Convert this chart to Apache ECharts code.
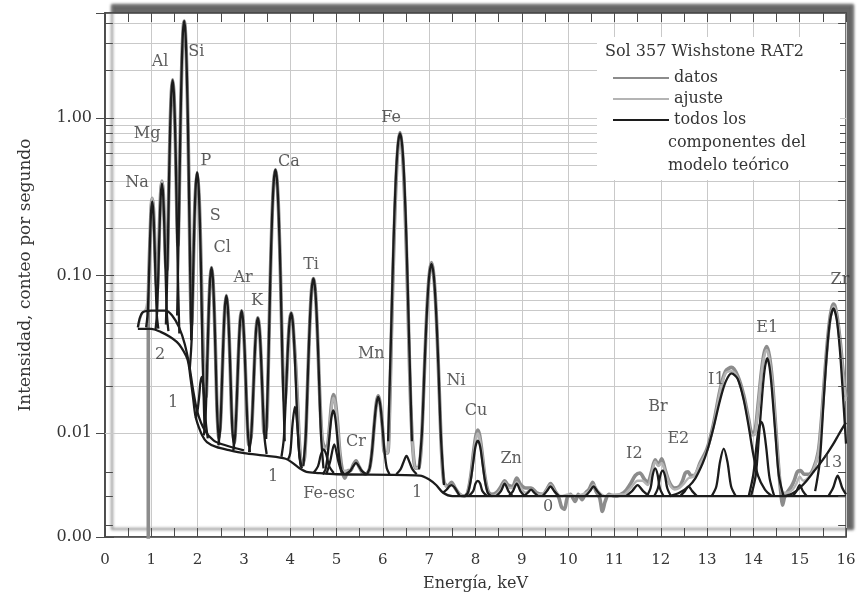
<!DOCTYPE html>
<html>
<head>
<meta charset="utf-8">
<script src="https://cdn.jsdelivr.net/npm/echarts@6/dist/echarts.min.js"></script>
<style>
html, body { margin: 0; background: #fff; }
#chart { width: 859px; height: 600px; }
</style>
</head>
<body>
<div id="chart"></div>
<script>
// espectro APXS, Sol 357 Wishstone RAT2
const datos = [[0.935,0.0020],[0.935,0.062],[0.95,0.108],[0.975,0.178],[1.0,0.28],[1.02,0.31],[1.045,0.266],[1.07,0.174],[1.10,0.096],[1.125,0.081],[1.15,0.116],[1.18,0.226],[1.205,0.345],[1.23,0.398],[1.255,0.343],[1.28,0.225],[1.31,0.119],[1.34,0.109],[1.37,0.268],[1.40,0.726],[1.43,1.40],[1.46,1.75],[1.49,1.40],[1.52,0.72],[1.55,0.266],[1.575,0.155],[1.60,0.288],[1.63,0.945],[1.66,2.30],[1.69,3.76],[1.71,4.13],[1.73,3.76],[1.76,2.30],[1.79,0.932],[1.82,0.261],[1.845,0.082],[1.87,0.0485],[1.895,0.080],[1.92,0.167],[1.95,0.324],[1.99,0.452],[2.03,0.322],[2.06,0.173],[2.09,0.073],[2.12,0.032],[2.15,0.018],[2.18,0.017],[2.21,0.030],[2.24,0.059],[2.27,0.095],[2.30,0.1125],[2.33,0.095],[2.36,0.059],[2.39,0.030],[2.42,0.014],[2.46,0.0093],[2.50,0.0127],[2.54,0.0285],[2.58,0.0577],[2.62,0.0748],[2.66,0.0576],[2.70,0.0283],[2.74,0.0124],[2.79,0.0087],[2.84,0.0147],[2.88,0.031],[2.92,0.0527],[2.95,0.060],[2.98,0.0527],[3.02,0.031],[3.06,0.0146],[3.11,0.0084],[3.16,0.0099],[3.20,0.0179],[3.24,0.0347],[3.27,0.0482],[3.30,0.054],[3.33,0.0482],[3.36,0.0347],[3.40,0.0179],[3.44,0.010],[3.49,0.011],[3.53,0.030],[3.57,0.098],[3.61,0.247],[3.645,0.40],[3.68,0.470],[3.715,0.40],[3.75,0.247],[3.79,0.098],[3.83,0.031],[3.86,0.018],[3.88,0.0155],[3.92,0.022],[3.96,0.040],[3.99,0.0528],[4.02,0.058],[4.05,0.0526],[4.08,0.0395],[4.12,0.026],[4.16,0.015],[4.20,0.0085],[4.25,0.0062],[4.31,0.0071],[4.36,0.0152],[4.40,0.0343],[4.44,0.0654],[4.47,0.0872],[4.50,0.096],[4.53,0.0872],[4.56,0.0654],[4.60,0.0343],[4.64,0.0164],[4.69,0.0091],[4.74,0.0082],[4.79,0.0081],[4.84,0.0103],[4.89,0.0152],[4.93,0.0176],[4.97,0.0162],[5.02,0.0118],[5.07,0.0076],[5.13,0.0057],[5.18,0.0052],[5.25,0.0058],[5.30,0.0058],[5.36,0.0063],[5.42,0.0067],[5.48,0.0062],[5.55,0.0057],[5.62,0.0055],[5.70,0.0058],[5.76,0.0074],[5.81,0.011],[5.86,0.0156],[5.90,0.0173],[5.94,0.0155],[5.99,0.011],[6.04,0.0075],[6.10,0.0075],[6.14,0.0125],[6.18,0.038],[6.22,0.105],[6.26,0.26],[6.30,0.50],[6.335,0.70],[6.37,0.81],[6.405,0.70],[6.44,0.50],[6.48,0.262],[6.52,0.112],[6.56,0.040],[6.60,0.0155],[6.65,0.0078],[6.71,0.0060],[6.78,0.0061],[6.83,0.0084],[6.88,0.0186],[6.93,0.0442],[6.97,0.076],[7.01,0.106],[7.05,0.121],[7.09,0.106],[7.13,0.0755],[7.17,0.0436],[7.22,0.0177],[7.27,0.0074],[7.32,0.0049],[7.40,0.0046],[7.48,0.0049],[7.56,0.0045],[7.66,0.0041],[7.76,0.0040],[7.83,0.0042],[7.90,0.0054],[7.96,0.0077],[8.01,0.0097],[8.05,0.0105],[8.09,0.0097],[8.14,0.0076],[8.20,0.0054],[8.27,0.0043],[8.35,0.0041],[8.45,0.0042],[8.55,0.0046],[8.63,0.0050],[8.70,0.0047],[8.80,0.0046],[8.89,0.0052],[8.98,0.0047],[9.08,0.0045],[9.20,0.0045],[9.32,0.0042],[9.45,0.0041],[9.54,0.0044],[9.62,0.0048],[9.72,0.0043],[9.8,0.0039],[9.86,0.0034],[9.92,0.0033],[9.98,0.0039],[10.05,0.0041],[10.15,0.0037],[10.22,0.0041],[10.3,0.0038],[10.38,0.0042],[10.45,0.0044],[10.53,0.0049],[10.6,0.0043],[10.68,0.0039],[10.74,0.0032],[10.8,0.0037],[10.88,0.0041],[11.0,0.0040],[11.2,0.0042],[11.35,0.0048],[11.45,0.0054],[11.55,0.0056],[11.65,0.0051],[11.72,0.0049],[11.8,0.0057],[11.88,0.0068],[11.95,0.0063],[12.02,0.0069],[12.1,0.0058],[12.2,0.0048],[12.3,0.0045],[12.4,0.0046],[12.47,0.0050],[12.53,0.0056],[12.59,0.0057],[12.65,0.0054],[12.72,0.0054],[12.85,0.0065],[13.0,0.0080],[13.14,0.0115],[13.28,0.0188],[13.4,0.0248],[13.53,0.0262],[13.66,0.0232],[13.79,0.0175],[13.9,0.0122],[13.97,0.0101],[14.03,0.0102],[14.1,0.0150],[14.17,0.0240],[14.23,0.0320],[14.29,0.0355],[14.35,0.0305],[14.41,0.0215],[14.48,0.0112],[14.55,0.0058],[14.6,0.0040],[14.63,0.0035],[14.68,0.0040],[14.75,0.0043],[14.82,0.0046],[14.88,0.0050],[14.95,0.0057],[15.02,0.0058],[15.1,0.0055],[15.2,0.0055],[15.3,0.0060],[15.40,0.0076],[15.46,0.0112],[15.52,0.0192],[15.58,0.033],[15.64,0.050],[15.69,0.062],[15.73,0.066],[15.77,0.063],[15.82,0.052],[15.88,0.037],[15.94,0.024],[16.0,0.017]];

const ajuste = [[0.71,0.047],[0.8,0.058],[0.88,0.061],[0.92,0.072],[0.95,0.108],[0.975,0.178],[1.0,0.28],[1.02,0.31],[1.045,0.266],[1.07,0.174],[1.10,0.096],[1.125,0.081],[1.15,0.116],[1.18,0.226],[1.205,0.345],[1.23,0.398],[1.255,0.343],[1.28,0.225],[1.31,0.119],[1.34,0.109],[1.37,0.268],[1.40,0.726],[1.43,1.40],[1.46,1.75],[1.49,1.40],[1.52,0.72],[1.55,0.266],[1.575,0.155],[1.60,0.288],[1.63,0.945],[1.66,2.30],[1.69,3.76],[1.71,4.13],[1.73,3.76],[1.76,2.30],[1.79,0.932],[1.82,0.261],[1.845,0.082],[1.87,0.0485],[1.895,0.080],[1.92,0.167],[1.95,0.324],[1.99,0.452],[2.03,0.322],[2.06,0.173],[2.09,0.073],[2.12,0.032],[2.15,0.018],[2.18,0.017],[2.21,0.030],[2.24,0.059],[2.27,0.095],[2.30,0.1125],[2.33,0.095],[2.36,0.059],[2.39,0.030],[2.42,0.014],[2.46,0.0093],[2.50,0.0127],[2.54,0.0285],[2.58,0.0577],[2.62,0.0748],[2.66,0.0576],[2.70,0.0283],[2.74,0.0124],[2.79,0.0087],[2.84,0.0147],[2.88,0.031],[2.92,0.0527],[2.95,0.060],[2.98,0.0527],[3.02,0.031],[3.06,0.0146],[3.11,0.0084],[3.16,0.0099],[3.20,0.0179],[3.24,0.0347],[3.27,0.0482],[3.30,0.054],[3.33,0.0482],[3.36,0.0347],[3.40,0.0179],[3.44,0.010],[3.49,0.011],[3.53,0.030],[3.57,0.098],[3.61,0.247],[3.645,0.40],[3.68,0.470],[3.715,0.40],[3.75,0.247],[3.79,0.098],[3.83,0.030],[3.88,0.0137],[3.92,0.022],[3.96,0.040],[3.99,0.0528],[4.02,0.058],[4.05,0.0526],[4.08,0.0395],[4.12,0.026],[4.16,0.015],[4.20,0.0085],[4.25,0.0062],[4.31,0.0071],[4.36,0.0152],[4.40,0.0343],[4.44,0.0654],[4.47,0.0872],[4.50,0.096],[4.53,0.0872],[4.56,0.0654],[4.60,0.0343],[4.64,0.0164],[4.69,0.0091],[4.74,0.0080],[4.79,0.0080],[4.84,0.0100],[4.89,0.0145],[4.93,0.0168],[4.97,0.0155],[5.02,0.0115],[5.07,0.0076],[5.13,0.0058],[5.30,0.0058],[5.36,0.0062],[5.42,0.0065],[5.48,0.0062],[5.55,0.0057],[5.62,0.0055],[5.70,0.0058],[5.76,0.0074],[5.81,0.011],[5.86,0.0154],[5.90,0.017],[5.94,0.0154],[5.99,0.011],[6.04,0.0075],[6.10,0.0075],[6.14,0.0125],[6.18,0.038],[6.22,0.105],[6.26,0.26],[6.30,0.50],[6.335,0.70],[6.37,0.80],[6.405,0.70],[6.44,0.50],[6.48,0.262],[6.52,0.112],[6.56,0.040],[6.60,0.0155],[6.65,0.0078],[6.71,0.0060],[6.78,0.0061],[6.83,0.0084],[6.88,0.0186],[6.93,0.0442],[6.97,0.076],[7.01,0.106],[7.05,0.119],[7.09,0.106],[7.13,0.0755],[7.17,0.0436],[7.22,0.0177],[7.27,0.0074],[7.32,0.0049],[7.40,0.0045],[7.48,0.0047],[7.56,0.0045],[7.66,0.0041],[7.76,0.0040],[7.83,0.0042],[7.90,0.0053],[7.96,0.0074],[8.01,0.0093],[8.05,0.0100],[8.09,0.0093],[8.14,0.0074],[8.20,0.0053],[8.27,0.0042],[8.35,0.0040],[8.45,0.0041],[8.55,0.0044],[8.63,0.0049],[8.72,0.0045],[8.80,0.0045],[8.89,0.0049],[8.98,0.0045],[9.08,0.0042],[9.20,0.0044],[9.32,0.0041],[9.45,0.0041],[9.54,0.0044],[9.62,0.0047],[9.72,0.0043],[9.85,0.0040],[10.0,0.0041],[10.15,0.0040],[10.3,0.0041],[10.45,0.0043],[10.55,0.0047],[10.65,0.0043],[10.8,0.0040],[11.0,0.0041],[11.2,0.0041],[11.35,0.0045],[11.5,0.0050],[11.6,0.0050],[11.72,0.0047],[11.8,0.0055],[11.88,0.0066],[11.95,0.0062],[12.02,0.0065],[12.1,0.0057],[12.2,0.0047],[12.3,0.0044],[12.4,0.0045],[12.5,0.0048],[12.6,0.0052],[12.7,0.0053],[12.85,0.0064],[13.0,0.0078],[13.14,0.0112],[13.28,0.0185],[13.4,0.0240],[13.53,0.0248],[13.66,0.0225],[13.79,0.0168],[13.9,0.0118],[13.97,0.0097],[14.03,0.0098],[14.1,0.0145],[14.17,0.0232],[14.23,0.0305],[14.29,0.0338],[14.35,0.0292],[14.41,0.0208],[14.48,0.0108],[14.55,0.0060],[14.63,0.0042],[14.72,0.0042],[14.85,0.0044],[14.93,0.0048],[15.0,0.0053],[15.08,0.0050],[15.2,0.0053],[15.3,0.0059],[15.40,0.0075],[15.46,0.011],[15.52,0.0188],[15.58,0.032],[15.64,0.0485],[15.69,0.059],[15.73,0.0635],[15.77,0.061],[15.82,0.051],[15.88,0.036],[15.94,0.023],[16.0,0.016]];

// componentes del modelo teorico: fondos (1, 2) y picos
const fondo1 = [[0.71,0.046],[1.0,0.046],[1.2,0.044],[1.4,0.041],[1.55,0.038],[1.65,0.035],[1.75,0.031],[1.8,0.028],[1.85,0.022],[1.9,0.017],[1.95,0.013],[2.0,0.0115],[2.1,0.0097],[2.2,0.0088],[2.4,0.0082],[2.7,0.0078],[3.0,0.0075],[3.5,0.0072],[3.9,0.0069],[4.05,0.0065],[4.2,0.0060],[4.35,0.0057],[4.6,0.0056],[5.0,0.0055],[6.8,0.0054],[7.0,0.0051],[7.15,0.0047],[7.3,0.0042],[7.5,0.0040],[16,0.0040]];
const fondo2 = [[0.71,0.047],[0.8,0.058],[1.0,0.060],[1.3,0.060],[1.45,0.056],[1.6,0.047],[1.72,0.037],[1.82,0.027],[1.9,0.019],[2.0,0.0135],[2.15,0.0105],[2.35,0.0090],[2.6,0.0084],[3.0,0.0078]];
const pNa = [[0.888,0.047],[0.92,0.057],[0.948,0.0955],[0.972,0.168],[0.996,0.255],[1.02,0.296],[1.044,0.254],[1.068,0.167],[1.092,0.0945],[1.12,0.056],[1.152,0.0461]];
const pMg = [[1.091,0.0455],[1.125,0.059],[1.154,0.111],[1.18,0.210],[1.205,0.328],[1.23,0.384],[1.255,0.328],[1.28,0.209],[1.306,0.110],[1.335,0.058],[1.369,0.0445]];
const pAl = [[1.315,0.049],[1.35,0.117],[1.381,0.378],[1.407,0.869],[1.434,1.46],[1.46,1.74],[1.486,1.46],[1.513,0.868],[1.539,0.376],[1.57,0.112],[1.605,0.043]];
const pSi = [[1.558,0.056],[1.595,0.216],[1.627,0.847],[1.655,2.03],[1.682,3.46],[1.71,4.13],[1.738,3.45],[1.765,2.03],[1.793,0.840],[1.825,0.205],[1.862,0.039]];
const pP = [[1.832,0.026],[1.87,0.039],[1.904,0.103],[1.932,0.229],[1.961,0.380],[1.99,0.452],[2.019,0.378],[2.048,0.225],[2.076,0.097],[2.11,0.029],[2.148,0.011]];
const pSiEsc = [[1.96,0.0125],[2.0,0.0141],[2.03,0.0168],[2.06,0.021],[2.09,0.0228],[2.12,0.0204],[2.15,0.0155],[2.18,0.0115],[2.22,0.0093]];
const pS = [[2.135,0.0097],[2.175,0.0135],[2.21,0.0293],[2.24,0.0592],[2.27,0.0953],[2.30,0.1125],[2.33,0.0952],[2.36,0.059],[2.39,0.0288],[2.425,0.0128],[2.465,0.0085]];
const pCl = [[2.448,0.0084],[2.49,0.0109],[2.526,0.0213],[2.558,0.0405],[2.589,0.0638],[2.62,0.0748],[2.651,0.0637],[2.682,0.0404],[2.714,0.0211],[2.75,0.0106],[2.792,0.0079]];
const pAr = [[2.77,0.0078],[2.8125,0.0099],[2.851,0.018],[2.884,0.0331],[2.917,0.0513],[2.95,0.060],[2.983,0.0513],[3.016,0.0331],[3.049,0.0179],[3.0875,0.0098],[3.13,0.0076]];
const pK = [[3.11,0.0076],[3.155,0.0095],[3.196,0.0165],[3.23,0.030],[3.265,0.0463],[3.30,0.054],[3.335,0.0463],[3.37,0.030],[3.404,0.0165],[3.445,0.0094],[3.49,0.0074]];
const pCa = [[3.48,0.0092],[3.5275,0.0274],[3.57,0.0988],[3.607,0.2325],[3.643,0.394],[3.68,0.470],[3.717,0.394],[3.753,0.2324],[3.79,0.0986],[3.8325,0.0272],[3.88,0.0089]];
const pCaB = [[3.81,0.0071],[3.86,0.0092],[3.905,0.017],[3.943,0.0319],[3.982,0.0497],[4.02,0.0581],[4.058,0.0495],[4.097,0.0314],[4.135,0.0164],[4.18,0.0084],[4.23,0.0061]];
const p410 = [[3.95,0.0068],[4.0,0.0075],[4.05,0.0115],[4.10,0.0147],[4.15,0.0115],[4.2,0.0072],[4.25,0.0060]];
const pTi = [[4.282,0.0062],[4.335,0.0097],[4.381,0.0236],[4.421,0.0496],[4.46,0.0811],[4.50,0.096],[4.54,0.0811],[4.579,0.0496],[4.619,0.0235],[4.665,0.0096],[4.718,0.0060]];
const pFeEsc = [[4.5,0.0056],[4.6,0.0062],[4.66,0.0073],[4.72,0.0079],[4.78,0.0073],[4.84,0.0062],[4.94,0.0056]];
const pTiB = [[4.70,0.0055],[4.76,0.0059],[4.806,0.0072],[4.847,0.0096],[4.889,0.0126],[4.93,0.014],[4.971,0.0126],[5.013,0.0096],[5.054,0.0072],[5.10,0.0059],[5.16,0.0055]];
const pTiB2 = [[4.78,0.0055],[4.86,0.0066],[4.95,0.0085],[5.04,0.0066],[5.12,0.0055]];
const pCr = [[5.2,0.0055],[5.3,0.0058],[5.36,0.0062],[5.42,0.0065],[5.48,0.0062],[5.54,0.0058],[5.64,0.0055]];
const pMn = [[5.656,0.0055],[5.715,0.0060],[5.767,0.0078],[5.811,0.0111],[5.856,0.0151],[5.90,0.017],[5.944,0.0151],[5.989,0.0111],[6.033,0.0078],[6.085,0.0060],[6.144,0.0055]];
const pFe = [[6.113,0.0089],[6.175,0.0404],[6.23,0.163],[6.276,0.393],[6.323,0.669],[6.37,0.80],[6.417,0.669],[6.464,0.393],[6.51,0.163],[6.565,0.0404],[6.627,0.0089]];
const pMnB = [[6.29,0.0055],[6.38,0.0059],[6.44,0.0065],[6.51,0.0072],[6.58,0.0065],[6.64,0.0059],[6.73,0.0055]];
const pFeB = [[6.78,0.0059],[6.845,0.0103],[6.902,0.0278],[6.952,0.0607],[7.001,0.1003],[7.05,0.119],[7.099,0.100],[7.148,0.0601],[7.198,0.0271],[7.255,0.0093],[7.32,0.0047]];
const pNi = [[7.3,0.0042],[7.38,0.0044],[7.43,0.0046],[7.48,0.0047],[7.53,0.0046],[7.58,0.0044],[7.66,0.0040]];
const pCu = [[7.766,0.0040],[7.835,0.0042],[7.895,0.0050],[7.947,0.0064],[7.998,0.0082],[8.05,0.0090],[8.102,0.0082],[8.153,0.0064],[8.205,0.0050],[8.265,0.0042],[8.334,0.0040]];
const pCu2 = [[7.85,0.0040],[7.95,0.0043],[8.0,0.0048],[8.05,0.0050],[8.1,0.0048],[8.15,0.0043],[8.25,0.0040]];
const pZn = [[8.45,0.0040],[8.55,0.0043],[8.63,0.0048],[8.71,0.0043],[8.8,0.0040]];
const pCuB = [[8.72,0.0040],[8.81,0.0043],[8.89,0.0048],[8.97,0.0043],[9.06,0.0040]];
const p920 = [[9.05,0.0040],[9.13,0.0042],[9.2,0.0044],[9.27,0.0042],[9.35,0.0040]];
const pZnB = [[9.45,0.0040],[9.54,0.0043],[9.62,0.0046],[9.7,0.0043],[9.8,0.0040]];
const p1055 = [[10.38,0.0040],[10.47,0.0043],[10.55,0.0046],[10.63,0.0043],[10.72,0.0040]];
const pI2 = [[11.25,0.0040],[11.38,0.0043],[11.5,0.0047],[11.62,0.0043],[11.75,0.0040]];
const pBr = [[11.7,0.0040],[11.78,0.0045],[11.83,0.0055],[11.88,0.0060],[11.93,0.0055],[11.98,0.0045],[12.06,0.0040]];
const pE2 = [[11.86,0.0040],[11.94,0.0045],[11.99,0.0054],[12.04,0.0058],[12.09,0.0054],[12.14,0.0045],[12.22,0.0040]];
const p1260 = [[12.42,0.0040],[12.52,0.0043],[12.6,0.0046],[12.68,0.0043],[12.78,0.0040]];
const pI1 = [[12.2,0.0040],[12.4,0.0042],[12.6,0.0046],[12.75,0.0052],[12.9,0.0064],[13.0,0.0077],[13.14,0.0109],[13.28,0.0162],[13.4,0.0212],[13.53,0.0240],[13.66,0.0222],[13.79,0.0164],[13.9,0.0110],[14.0,0.0073],[14.1,0.0054],[14.25,0.0044],[14.4,0.0040]];
const pI1b = [[13.1,0.0040],[13.2,0.0046],[13.28,0.0066],[13.36,0.0080],[13.44,0.0066],[13.52,0.0046],[13.62,0.0040]];
const pE1 = [[13.95,0.0040],[14.05,0.0054],[14.12,0.0095],[14.2,0.0190],[14.25,0.0262],[14.3,0.0300],[14.35,0.0262],[14.4,0.0190],[14.48,0.0095],[14.55,0.0054],[14.65,0.0040]];
const pE1b = [[13.9,0.0040],[14.0,0.0055],[14.07,0.0085],[14.12,0.0108],[14.17,0.0118],[14.22,0.0108],[14.28,0.0080],[14.35,0.0052],[14.45,0.0040]];
const p1500 = [[14.85,0.0040],[14.93,0.0043],[15.0,0.0047],[15.07,0.0043],[15.15,0.0040]];
const pCompton = [[14.7,0.0040],[14.87,0.0042],[15.0,0.0045],[15.15,0.0050],[15.3,0.0057],[15.45,0.0065],[15.6,0.0075],[15.72,0.0085],[15.84,0.0098],[15.94,0.0110],[16.0,0.0117]];
const pZr = [[15.334,0.0043],[15.43,0.0065],[15.514,0.0155],[15.586,0.0322],[15.658,0.0524],[15.73,0.062],[15.802,0.0524],[15.874,0.0322],[15.946,0.0155],[16.0,0.0086]];
const p13 = [[15.62,0.0040],[15.72,0.0045],[15.78,0.0051],[15.82,0.0054],[15.86,0.0051],[15.92,0.0045],[16.0,0.0041]];

const componentes = [fondo1, fondo2, pNa, pMg, pAl, pSi, pP, pSiEsc, pS, pCl, pAr, pK, pCa, pCaB, p410, pTi, pFeEsc, pTiB, pTiB2, pCr, pMn, pFe, pMnB, pFeB, pNi, pCu, pCu2, pZn, pCuB, p920, pZnB, p1055, pI2, pBr, pE2, p1260, pI1, pI1b, pE1, pE1b, p1500, pCompton, pZr, p13];

// etiquetas de los picos [energia, intensidad, texto]
const etiquetas = [[0.69,0.386,'Na'],[0.91,0.80,'Mg'],[1.19,2.27,'Al'],[1.97,2.62,'Si'],[2.18,0.533,'P'],[2.38,0.239,'S'],[2.53,0.150,'Cl'],[2.98,0.0964,'Ar'],[3.28,0.0689,'K'],[3.97,0.526,'Ca'],[4.45,0.117,'Ti'],[6.18,1.0,'Fe'],[5.75,0.0318,'Mn'],[7.58,0.0214,'Ni'],[8.01,0.0138,'Cu'],[5.42,0.00877,'Cr'],[8.77,0.00694,'Zn'],[4.84,0.00416,'Fe-esc'],[1.47,0.0157,'1'],[1.19,0.0313,'2'],[3.63,0.00533,'1'],[6.74,0.00422,'1'],[9.57,0.00344,'0'],[11.43,0.00746,'I2'],[11.94,0.0148,'Br'],[12.38,0.00929,'E2'],[13.2,0.0220,'I1'],[14.3,0.0464,'E1'],[15.87,0.0935,'Zr'],[15.70,0.00654,'13']];

// lineas de rejilla secundarias del eje logaritmico
const lineasMenores = [0.0026,0.004,0.0057,0.02,0.03,0.04,0.05,0.06,0.07,0.08,0.09,0.2,0.3,0.4,0.5,0.6,0.7,0.8,0.9,2,3,4];

const nombreComp = 'todos los componentes del modelo teórico';
const fuente = "'DejaVu Serif', serif";
const gris = '#c9c9c9';
const marco = '#4a4a4a';

const myChart = echarts.init(document.getElementById('chart'));

const ejeX = {
  type: 'value', min: 0, max: 16, interval: 1,
  axisLine: { lineStyle: { color: marco, width: 1.5 } },
  axisTick: { inside: true, length: 9, lineStyle: { color: marco } },
  minorTick: { show: true, splitNumber: 2, length: 9, lineStyle: { color: marco } },
  splitLine: { show: true, lineStyle: { color: gris, width: 1 } }
};
const ejeY = {
  type: 'log', logBase: 10, min: 0.0022, max: 4.64,
  axisLine: { show: true, lineStyle: { color: marco, width: 1.5 } },
  axisTick: { show: true, inside: true, length: 9, lineStyle: { color: marco } },
  splitLine: { show: true, lineStyle: { color: gris, width: 1 } }
};

// marcas cortas del eje y en las posiciones secundarias (izquierda y derecha)
const marcasMenores = [];
lineasMenores.forEach(v => {
  marcasMenores.push([{ coord: [0, v] }, { coord: [0.17, v] }]);
  marcasMenores.push([{ coord: [15.83, v] }, { coord: [16, v] }]);
});

let series = [
  {
    type: 'line', data: [], z: 1, silent: true,
    markLine: {
      z: 1, silent: true, symbol: 'none', label: { show: false }, animation: false,
      lineStyle: { color: gris, width: 1, type: 'solid' },
      data: lineasMenores.map(v => ({ yAxis: v }))
    }
  },
  {
    type: 'line', data: [], z: 6, silent: true,
    markLine: {
      z: 6, silent: true, symbol: 'none', label: { show: false }, animation: false,
      lineStyle: { color: marco, width: 1, type: 'solid' },
      data: marcasMenores
    }
  },
  {
    name: 'datos', type: 'line', data: datos, symbol: 'none', smooth: 0.3, z: 2,
    lineStyle: { color: '#8c8c8c', width: 3.6 }, itemStyle: { color: '#8c8c8c' }
  },
  {
    name: 'ajuste', type: 'line', data: ajuste, symbol: 'none', smooth: 0.3, z: 3,
    lineStyle: { color: '#b4b4b4', width: 2.4 }, itemStyle: { color: '#b4b4b4' }
  }
];
componentes.forEach(c => {
  series.push({
    name: nombreComp, type: 'line', data: c, symbol: 'none', smooth: 0.3, z: 4,
    lineStyle: { color: '#1c1c1c', width: 2.3 }, itemStyle: { color: '#1c1c1c' }
  });
});
series.push({
  type: 'scatter', data: etiquetas, symbolSize: 0, z: 5, silent: true, clip: false,
  label: {
    show: true, position: 'inside', formatter: p => p.value[2],
    fontFamily: fuente, fontSize: 16, color: '#353535'
  }
});

let option = {
  animation: false,
  backgroundColor: '#fff',
  grid: {
    left: 105, right: 13, top: 13, bottom: 63,
    show: true, backgroundColor: '#fff', borderColor: marco, borderWidth: 1.5,
    shadowColor: 'rgba(0,0,0,0.6)', shadowBlur: 3, shadowOffsetX: 7, shadowOffsetY: -8
  },
  xAxis: [
    Object.assign({}, ejeX, {
      position: 'bottom',
      name: 'Energía, keV', nameLocation: 'middle', nameGap: 39,
      nameTextStyle: { fontFamily: fuente, fontSize: 16, color: '#353535' },
      axisLabel: { margin: 16, fontFamily: fuente, fontSize: 15, color: '#353535' }
    }),
    Object.assign({}, ejeX, { position: 'top', axisLabel: { show: false }, splitLine: { show: false } })
  ],
  yAxis: [
    Object.assign({}, ejeY, {
      position: 'left',
      name: 'Intensidad, conteo por segundo', nameLocation: 'middle', nameGap: 71,
      nameTextStyle: { fontFamily: fuente, fontSize: 17, color: '#353535' },
      axisLabel: {
        margin: 13, fontFamily: fuente, fontSize: 16, color: '#353535',
        showMaxLabel: false, formatter: v => v.toFixed(2)
      }
    }),
    Object.assign({}, ejeY, { position: 'right', axisLabel: { show: false }, splitLine: { show: false } })
  ],
  legend: {
    data: ['datos', 'ajuste', nombreComp],
    orient: 'vertical', left: 607, top: 65, z: 8,
    itemWidth: 56, itemHeight: 14, itemGap: 5,
    itemStyle: { opacity: 0 },
    textStyle: { fontFamily: fuente, fontSize: 16, color: '#353535' },
    formatter: name => name === nombreComp ? 'todos los' : name
  },
  graphic: [
    { type: 'rect', shape: { x: 597, y: 37, width: 243, height: 143 }, style: { fill: '#fff' }, z: 7, silent: true },
    { type: 'text', x: 605, y: 52, z: 8, style: { text: 'Sol 357 Wishstone RAT2', font: "16px 'DejaVu Serif'", fill: '#353535', verticalAlign: 'middle' } },
    { type: 'text', x: 668, y: 143, z: 8, style: { text: 'componentes del', font: "16px 'DejaVu Serif'", fill: '#353535', verticalAlign: 'middle' } },
    { type: 'text', x: 668, y: 166, z: 8, style: { text: 'modelo teórico', font: "16px 'DejaVu Serif'", fill: '#353535', verticalAlign: 'middle' } }
  ],
  series: series
};
option && myChart.setOption(option);
</script>
</body>
</html>
